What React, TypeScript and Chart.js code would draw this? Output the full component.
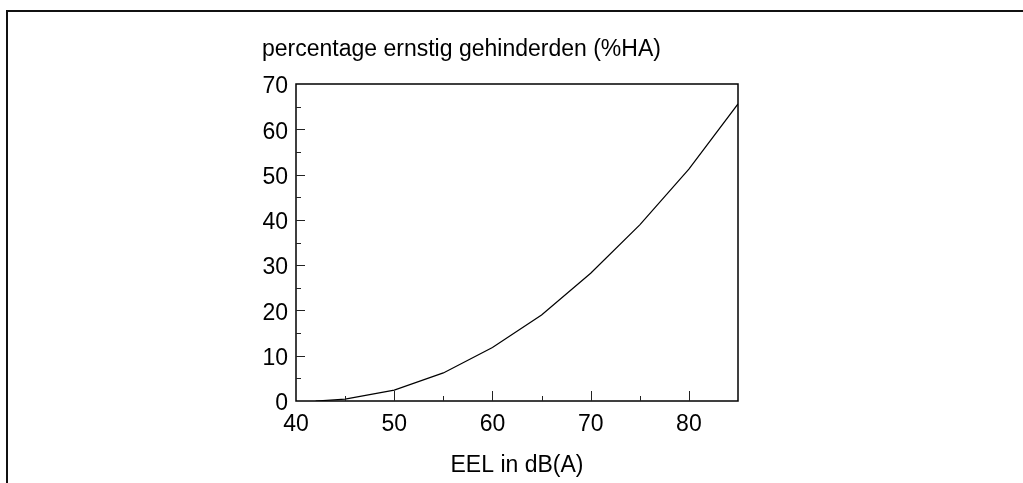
import React, { useEffect, useRef } from "react";
import { Chart, registerables } from "chart.js";

Chart.register(...registerables);

const eelValues = [42, 45, 50, 55, 60, 65, 70, 75, 80, 85];
const haValues = [0, 0.4, 2.4, 6.2, 11.8, 19.0, 28.2, 38.9, 51.2, 65.6];
const xTickLabels = [40, 50, 60, 70, 80];
const yTickLabels = [0, 10, 20, 30, 40, 50, 60, 70];
const xMinorTicks = [45, 50, 55, 60, 65, 70, 75, 80];
const yMinorTicks = [5, 10, 15, 20, 25, 30, 35, 40, 45, 50, 55, 60, 65];
const yTitle = "percentage ernstig gehinderden (%HA)";
const xTitle = "EEL in dB(A)";

const FONT = "'Liberation Sans', Arial, sans-serif";

const decorPlugin = {
  id: "decor",
  afterDatasetsDraw(chart: any) {
    const { ctx, chartArea } = chart;
    const xs = chart.scales.x;
    const ys = chart.scales.y;
    ctx.save();
    // outer frame (top & left)
    ctx.strokeStyle = "#111";
    ctx.lineWidth = 2;
    ctx.beginPath();
    ctx.moveTo(7, 483);
    ctx.lineTo(7, 11);
    ctx.lineTo(1023, 11);
    ctx.stroke();
    // plot frame
    ctx.lineWidth = 1.5;
    ctx.strokeStyle = "#000";
    ctx.strokeRect(chartArea.left, chartArea.top, chartArea.right - chartArea.left, chartArea.bottom - chartArea.top);
    // inward ticks
    ctx.lineWidth = 1;
    ctx.strokeStyle = "#222";
    ctx.beginPath();
    for (const v of xMinorTicks) {
      const px = Math.round(xs.getPixelForValue(v)) + 0.5;
      const len = v % 10 === 0 ? 10 : 5;
      ctx.moveTo(px, chartArea.bottom);
      ctx.lineTo(px, chartArea.bottom - len);
    }
    for (const v of yMinorTicks) {
      const py = Math.round(ys.getPixelForValue(v)) + 0.5;
      const len = v % 10 === 0 ? 9 : 5;
      ctx.moveTo(chartArea.left, py);
      ctx.lineTo(chartArea.left + len, py);
    }
    ctx.stroke();
    // y title (horizontal, above plot)
    ctx.fillStyle = "#000";
    ctx.font = `23px ${FONT}`;
    ctx.textAlign = "left";
    ctx.textBaseline = "alphabetic";
    ctx.fillText(yTitle, 262, 56);
    ctx.restore();
  },
};

export default function App() {
  const ref = useRef<HTMLCanvasElement | null>(null);
  useEffect(() => {
    if (!ref.current) return;
    const chart = new Chart(ref.current, {
      type: "line",
      data: {
        datasets: [
          {
            data: eelValues.map((x, i) => ({ x, y: haValues[i] })),
            borderColor: "#000",
            borderWidth: 1.2,
            pointRadius: 0,
            tension: 0,
            fill: false,
          },
        ],
      },
      options: {
        animation: false,
        responsive: false,
        layout: { padding: { left: 0, right: 285, top: 84, bottom: 0 } },
        plugins: { legend: { display: false }, tooltip: { enabled: false } },
        scales: {
          x: {
            type: "linear",
            min: 40,
            max: 85,
            grid: { display: false, drawTicks: false },
            border: { display: false },
            afterBuildTicks: (s: any) => {
              s.ticks = xTickLabels.map((v) => ({ value: v }));
            },
            afterFit: (s: any) => {
              s.height = 82;
            },
            ticks: {
              color: "#000",
              padding: 10,
              maxRotation: 0,
              autoSkip: false,
              font: { family: FONT, size: 23 },
            },
            title: {
              display: true,
              text: xTitle,
              color: "#000",
              font: { family: FONT, size: 23 },
              padding: { top: 0, bottom: 4 },
            },
          },
          y: {
            type: "linear",
            min: 0,
            max: 70,
            grid: { display: false, drawTicks: false },
            border: { display: false },
            afterBuildTicks: (s: any) => {
              s.ticks = yTickLabels.map((v) => ({ value: v }));
            },
            afterFit: (s: any) => {
              s.width = 296;
            },
            ticks: {
              color: "#000",
              padding: 8,
              labelOffset: 3,
              autoSkip: false,
              font: { family: FONT, size: 23 },
            },
          },
        },
      },
      plugins: [decorPlugin],
    });
    return () => chart.destroy();
  }, []);
  return (
    <canvas
      ref={ref}
      width={1023}
      height={483}
      style={{ position: "absolute", left: 0, top: 0, width: 1023, height: 483, background: "#fff" }}
    />
  );
}
